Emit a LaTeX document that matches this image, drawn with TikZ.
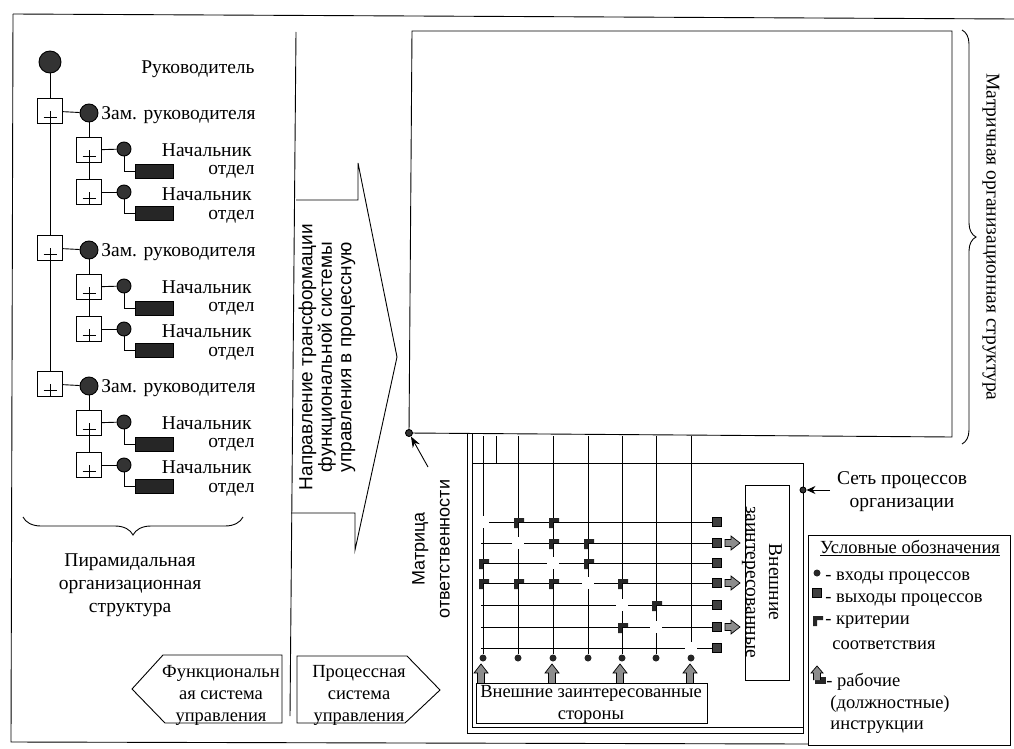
\documentclass[tikz,border=0pt]{standalone}
\usepackage{fontspec}
\setmainfont{Liberation Serif}
\newfontfamily\serf{Liberation Serif}
\newfontfamily\sansf{Liberation Sans}
\usetikzlibrary{decorations.pathreplacing,calc,arrows.meta}
\begin{document}
\begin{tikzpicture}[x=1pt,y=-1pt,line width=0.9pt,
  every node/.style={inner sep=0pt},
  serif/.style={font=\serf\fontsize{19.5}{23}\selectfont},
  legf/.style={font=\serf\fontsize{18.5}{22}\selectfont},
  sans/.style={font=\sansf\fontsize{19}{19.5}\selectfont},
  dot/.style={circle,draw,fill=black!80,inner sep=0pt},
  topdot/.style={dot,minimum size=22pt},
  zdot/.style={dot,minimum size=18pt},
  ndot/.style={dot,minimum size=14pt},
  plusbox/.style={draw,fill=white,minimum size=25pt,path picture={
     \draw[line width=0.8pt] ($(path picture bounding box.center)+(-6.5,6)$) -- ++(13,0);
     \draw[line width=0.8pt] (path picture bounding box.center) -- ++(0,13);}},
  drect/.style={draw,fill=black!85,minimum width=38pt,minimum height=14pt},
  indot/.style={circle,fill=black!85,minimum size=7pt},
  outsq/.style={draw,fill=black!75,minimum size=9pt},
  crit/.style={fill=black!85},
  blockarrow/.style={draw,fill=black!45,line width=0.7pt},
  brace/.style={decorate,decoration={brace,amplitude=#1}},
  grid/.style={line width=0.8pt},
]
\useasboundingbox (0,0) rectangle (1014,749);
% outer frame
\draw (13,14) -- (1014,19);
\draw (13,14) -- (11,742) -- (808,744);
% separator and transformation arrow
\draw (296,32) -- (290,716);
\draw (296,200) -- (358,200) -- (358,163) -- (397,357) -- (355,550) -- (355,513) -- (291,513);
\node[sans,rotate=90,align=center] (trans) at (327,357)
  {Направление трансформации\\функциональной системы\\управления в процессную};

% ---------- pyramid hierarchy ----------
\node[topdot] (head) at (50,62) {};
\node[serif,anchor=east] (headt) at (255,69) {Руководитель};
\foreach \g/\y in {1/113,2/250,3/386}{
  \node[plusbox] (b\g) at (50,\y-2) {};
  \node[zdot] (z\g) at (89,\y) {};
  \node[serif,anchor=east] (zt\g) at (256,\y+2) {Зам. руководителя};
  \node[plusbox] (s\g a) at (89,\y+37) {};
  \node[plusbox] (s\g b) at (89,\y+79) {};
  \node[ndot] (n\g a) at (124,\y+36) {};
  \node[ndot] (n\g b) at (124,\y+79) {};
  \node[drect] (r\g a) at (154,\y+58) {};
  \node[drect] (r\g b) at (154,\y+100) {};
  \node[serif,anchor=east] (nt\g a) at (252,\y+37) {Начальник};
  \node[serif,anchor=east] (ot\g a) at (255,\y+59) {отдел};
  \node[serif,anchor=east] (nt\g b) at (252,\y+81) {Начальник};
  \node[serif,anchor=east] (ot\g b) at (255,\y+104) {отдел};
  \draw (b\g) -- (z\g);
  \draw (z\g) -- (s\g a);
  \draw (s\g a) -- (s\g b);
  \draw (s\g a) -- (n\g a);
  \draw (s\g b) -- (n\g b);
  \draw (n\g a.south) |- (r\g a.west);
  \draw (n\g b.south) |- (r\g b.west);
}
\draw (head) -- (b1);
\draw (b1) -- (b2);
\draw (b2) -- (b3);
\draw[brace=18pt] (243,517) -- (23,517);
\node[serif,align=center] (pyr) at (130,585) {Пирамидальная\\организационная\\структура};

% bottom pentagons
\draw (132,689) -- (163,655) -- (282,655) -- (282,723) -- (165,723) -- cycle;
\node[legf,align=center] (func) at (221,695) {Функциональн\\ая система\\управления};
\draw (297,656) -- (407,656) -- (440,690) -- (405,723) -- (297,723) -- cycle;
\node[legf,align=center] (proc) at (359,695) {Процессная\\система\\управления};

% ---------- matrix structure ----------
\draw (412,31) -- (952,31) -- (952,437) -- (409,433) -- cycle;
\node[dot,minimum size=7pt] (corner) at (409,433) {};
\coordinate (mtip) at (428,467);
\draw[-{Stealth[length=11pt,width=8pt]}] (mtip) -- (corner);
\node[sans,rotate=90,align=center,font=\sansf\fontsize{18}{25}\selectfont] (mresp) at (431,549) {Матрица\\ответственности};
\draw[brace=14pt] (962,30) -- (962,444);
\node[serif,rotate=-90] (mtxt) at (991,237) {Матричная организационная структура};

% ---------- process network ----------
\draw[grid] (467,434) -- (467,733) -- (803,733) -- (803,463) -- (472,463);
\draw[grid] (472,434) -- (472,727) -- (803,727);
\draw[grid] (496,436) -- (496,463);
\foreach \x [count=\i] in {483,518,553,588,622,656,691}{
  \coordinate (ct\i) at (\x,436);
  \node[indot] (in\i) at (\x,658) {};
  \draw[grid] (ct\i) -- (in\i);
}
\foreach \y [count=\j] in {522,543,563,583,605,627,648}{
  \coordinate (rs\j) at (481,\y);
  \node[outsq] (out\j) at (717,\y) {};
  \draw[grid] (rs\j) -- (out\j);
}
% diagonal gaps
\foreach \x/\y in {483/522,518/543,553/563,588/583,622/605,656/627,691/648}{
  \fill[white] ({\x-6},{\y-6}) rectangle ({\x+6},{\y+6});
}
% criteria markers
\foreach \x/\y in {518/522,553/522,553/543,588/543,483/563,588/563,483/583,518/583,553/583,622/583,656/605,622/627}{
  \fill[crit] ({\x-4},{\y-4}) -- ++(10,0) -- ++(0,4) -- ++(-6,0) -- ++(0,6) -- ++(-4,0) -- cycle;
}
% up arrows from stakeholders
\foreach \x in {481,552,620,690}{
  \draw[blockarrow] ({\x-3.5},683) -- ({\x-3.5},673) -- ({\x-7},673) -- (\x,664) -- ({\x+7},673) -- ({\x+3.5},673) -- ({\x+3.5},683);
}
% right arrows to stakeholders
\foreach \y in {543,583,627}{
  \draw[blockarrow] (725,{\y-3.5}) -- (731,{\y-3.5}) -- (731,{\y-7}) -- (740,\y) -- (731,{\y+7}) -- (731,{\y+3.5}) -- (725,{\y+3.5}) -- cycle;
}
\draw[fill=white] (476,683) rectangle (707,723);
\node[legf,align=center] (ext1) at (591,704) {Внешние заинтересованные\\стороны};
\draw (745,485) rectangle (789,680);
\node[serif,rotate=-90,align=center] (ext2) at (762,582) {Внешние\\заинтересованные};
\node[dot,minimum size=6pt] (netdot) at (803,490) {};
\coordinate (nettail) at (830,490);
\draw[-{Stealth[length=9pt,width=8pt]}] (nettail) -- (netdot);
\node[serif,align=center] (net) at (902,492) {Сеть процессов\\организации};

% ---------- legend ----------
\draw (808,535) rectangle (1010,745);
\node[legf] (leg) at (910,548) {\underline{Условные обозначения}};
\node[indot] (li1) at (817,573) {};
\node[legf,anchor=west] (lt1) at (825,578) {- входы процессов};
\node[outsq] (li2) at (817,593) {};
\node[legf,anchor=west] (lt2) at (825,600) {- выходы процессов};
\fill[crit] (813,616) -- ++(10,0) -- ++(0,4) -- ++(-6,0) -- ++(0,6) -- ++(-4,0) -- cycle;
\node[legf,anchor=west] (lt3) at (825,622) {- критерии};
\node[legf,anchor=west] (lt3b) at (832,645) {соответствия};
\fill[black!85] (815,677) rectangle (826,684);
\draw[blockarrow] (813.5,680) -- (813.5,673) -- (811,673) -- (817,666) -- (823,673) -- (820.5,673) -- (820.5,680);
\node[legf,anchor=west] (lt4) at (826,682) {- рабочие};
\node[legf,anchor=west] (lt4b) at (830,704) {(должностные)};
\node[legf,anchor=west] (lt4c) at (830,727) {инструкции};
\end{tikzpicture}
\end{document}
